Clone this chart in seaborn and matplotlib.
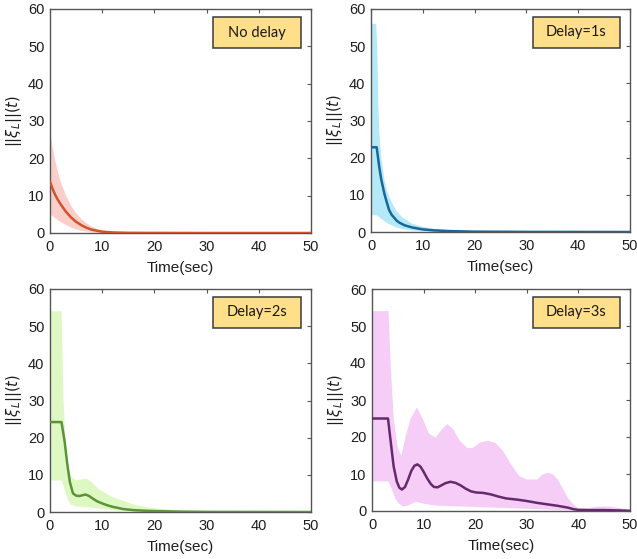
import numpy as np
import pandas as pd
import matplotlib
matplotlib.use("Agg")
import matplotlib.pyplot as plt
from matplotlib.patches import Rectangle
import seaborn as sns

# ---------------- data ----------------
titles = ["No delay", "Delay=1s", "Delay=2s", "Delay=3s"]

# No delay
t0 = [0, 0.5, 1, 1.5, 2, 3, 4, 5, 6, 7, 8, 9, 10, 12, 15, 20, 30, 40, 50]
m0 = [13.7, 11.8, 10.2, 8.9, 7.8, 5.8, 4.2, 3.0, 2.1, 1.4, 0.9, 0.6, 0.35, 0.15, 0.05, 0.02, 0, 0, 0]
u0 = [27.5, 23, 19.5, 16.5, 14, 10.2, 7.4, 5.3, 3.8, 2.6, 1.7, 1.1, 0.7, 0.3, 0.1, 0.05, 0.02, 0.02, 0.02]
l0 = [5, 4.5, 4, 3.5, 3, 2.2, 1.5, 1, 0.6, 0.4, 0.2, 0.1, 0.05, 0, 0, 0, 0, 0, 0]

# Delay = 1s
t1 = [0, 1.1, 1.6, 2.0, 2.6, 3.0, 3.5, 4, 5, 5.5, 6.5, 8, 10, 12, 15, 20, 30, 50]
m1 = [22.8, 22.8, 17.4, 14, 10.2, 8.2, 5.9, 4.6, 3.0, 2.5, 1.8, 1.2, 0.7, 0.45, 0.25, 0.1, 0.03, 0]
tb1 = [0, 1.0, 1.2, 1.4, 1.6, 2, 2.6, 3, 3.5, 4, 5, 6, 8, 10, 12, 15, 20, 30, 50]
u1 = [56, 56, 50, 35, 27, 20, 14, 11.5, 9.5, 8, 5.5, 4, 2.2, 1.4, 0.9, 0.5, 0.2, 0.05, 0]
l1 = [4.5, 4.5, 4.4, 4.2, 4, 3.5, 3, 2.5, 2.1, 1.8, 1.2, 0.8, 0.4, 0.2, 0.1, 0.05, 0, 0, 0]

# Delay = 2s
t2 = [0, 2.2, 2.8, 3.3, 3.8, 4.4, 5.0, 5.6, 6.2, 6.8, 7.5, 8.2, 9, 10, 11, 12, 14, 16, 18, 20, 25, 30, 50]
m2 = [24.2, 24.2, 19, 13, 8.1, 5.0, 4.4, 4.3, 4.5, 4.7, 4.3, 3.6, 2.9, 2.3, 1.8, 1.4, 0.8, 0.5, 0.35, 0.25, 0.1, 0.03, 0]
tb2 = [0, 2.2, 2.6, 3, 3.5, 4, 5, 6, 7, 8, 9, 10, 12, 14, 16, 18, 20, 25, 30, 50]
u2 = [54, 54, 30, 18, 12, 9.5, 8.5, 8.8, 9, 8, 6.5, 5.5, 4, 3, 2, 1.4, 1, 0.4, 0.1, 0]
l2 = [8.5, 8.5, 7, 5, 3.2, 2, 1.5, 1.4, 1.3, 1.2, 1.0, 0.8, 0.5, 0.3, 0.2, 0.1, 0.05, 0, 0, 0]

# Delay = 3s
t3 = [0, 3.1, 3.6, 4.2, 4.8, 5.3, 5.8, 6.4, 7.0, 7.6, 8.2, 8.8, 9.4, 10, 10.7, 11.4, 12, 12.7,
      13.4, 14.2, 15.2, 16.2, 17.2, 18.2, 19.2, 20.2, 21.5, 23, 24.5, 26, 28, 30, 32, 34, 36, 38,
      39, 40, 42, 45, 48, 50]
m3 = [25, 25, 19, 12, 8, 6.3, 5.8, 6.5, 8.5, 10.8, 12.2, 12.6, 12, 10.6, 8.8, 7.3, 6.5, 6.4,
      6.9, 7.5, 7.9, 7.6, 6.9, 6.0, 5.3, 5.0, 4.9, 4.5, 3.9, 3.4, 3.1, 2.7, 2.2, 1.8, 1.4, 0.9,
      0.5, 0.3, 0.25, 0.25, 0.15, 0.05]
tu3 = [0, 3.2, 3.6, 4.2, 5, 5.7, 6.5, 7.5, 8.7, 9.8, 11, 12.3, 13.5, 14.6, 15.8, 17, 18.5, 19.5,
       21, 22.5, 24, 25.5, 27, 28.5, 30, 32, 33, 34, 35, 36, 37, 38, 39, 40, 42, 44, 46, 48, 50]
u3 = [54, 54, 40, 25, 17, 15, 20, 25, 28, 25, 21, 19.8, 22, 23.5, 22, 19, 17, 17,
      18.5, 19, 18.3, 16, 12.5, 9.5, 8.5, 8.5, 9.8, 10.3, 10, 8.5, 6, 3.5, 1.8, 0.7, 0.8, 1.2,
      1.2, 0.8, 0.3]
tl3 = [0, 3.2, 3.8, 4.5, 5.2, 6, 7, 8.5, 10, 12, 15, 18, 22, 26, 30, 34, 38, 40, 50]
l3 = [8, 8, 6, 3.5, 2, 1.2, 1.5, 2.5, 2, 1.5, 1.3, 1.2, 1, 0.8, 0.6, 0.4, 0.2, 0, 0]

x_ticks = [0, 10, 20, 30, 40, 50]
y_ticks = [0, 10, 20, 30, 40, 50, 60]

line_colors = ["#D0532B", "#17679A", "#5A9436", "#652A6B"]
band_colors = ["#FACFCA", "#B6E9F7", "#DEF8C4", "#F5CDF6"]

panels = [
    dict(t=t0, m=m0, tu=t0, u=u0, tl=t0, l=l0),
    dict(t=t1, m=m1, tu=tb1, u=u1, tl=tb1, l=l1),
    dict(t=t2, m=m2, tu=tb2, u=u2, tl=tb2, l=l2),
    dict(t=t3, m=m3, tu=tu3, u=u3, tl=tl3, l=l3),
]

# ---------------- drawing ----------------
sns.set_theme(style="white")
plt.rcParams["font.family"] = ["Liberation Sans", "DejaVu Sans"]
plt.rcParams["mathtext.fontset"] = "dejavusans"

W, H = 637, 559
fig = plt.figure(figsize=(W / 100, H / 100), dpi=100)
fig.patch.set_facecolor("white")

boxes_px = [(50, 311, 9, 233), (371, 630, 9, 232), (50, 311, 289, 512), (372, 630, 289, 511)]

for i, (l, r, t, b) in enumerate(boxes_px):
    ax = fig.add_axes([l / W, (H - b) / H, (r - l) / W, (b - t) / H])
    p = panels[i]
    # band between lower and upper bound
    bx = np.r_[p["tu"], p["tl"][::-1]]
    by = np.r_[p["u"], p["l"][::-1]]
    ax.fill(bx, by, color=band_colors[i], lw=0, zorder=1)
    df = pd.DataFrame({"t": p["t"], "m": p["m"]})
    sns.lineplot(data=df, x="t", y="m", ax=ax, color=line_colors[i], lw=1.8, zorder=3)
    ax.set_xlim(0, 50)
    ax.set_ylim(0, 60)
    ax.set_xticks(x_ticks)
    ax.set_yticks(y_ticks)
    ax.tick_params(direction="in", top=True, right=True, length=3, width=0.8,
                   colors="#555555", labelcolor="#1e1e1e", labelsize=10.5)
    ax.tick_params(axis="x", pad=5)
    ax.tick_params(axis="y", pad=4)
    for s in ax.spines.values():
        s.set_color("#555555")
        s.set_linewidth(1.0)
    ax.set_xlabel("Time(sec)", fontsize=11, color="#1e1e1e")
    ax.set_ylabel(r"$||\xi_L||(t)$", fontsize=10.5, color="#1e1e1e")
    ax.xaxis.set_label_coords(0.5, -0.125)
    ax.yaxis.set_label_coords(-0.1, 0.5)
    ax.add_patch(Rectangle((0.625, 0.826), 0.335, 0.138, transform=ax.transAxes,
                           fc="#FFDF8A", ec="#3a3a3a", lw=1.1, zorder=5, clip_on=False))
    ax.text(0.792, 0.895, titles[i], transform=ax.transAxes, ha="center", va="center",
            fontsize=10.5, color="#1a1a1a", family=["Lato", "DejaVu Sans"], zorder=6)

fig.savefig("out.png", dpi=100, facecolor="white")
